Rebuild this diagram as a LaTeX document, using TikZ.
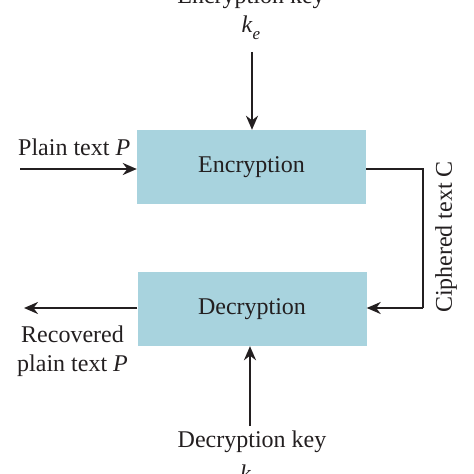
\documentclass[tikz,border=0pt]{standalone}
\usepackage{fontspec}
\setmainfont{Liberation Serif}
\usetikzlibrary{arrows.meta}
\definecolor{boxblue}{RGB}{168,211,222}
\definecolor{ink}{RGB}{35,31,32}
\newcommand{\subs}[1]{\raisebox{-0.28em}{\fontsize{17bp}{20bp}\selectfont\textit{#1}}}
\begin{document}
\begin{tikzpicture}[x=1bp,y=-1bp,
  every node/.style={text=ink,font=\fontsize{24bp}{28bp}\selectfont},
  block/.style={fill=boxblue,draw=none,minimum width=229bp,minimum height=74bp,inner sep=0pt},
  conn/.style={draw=ink,line width=2.7bp,-{Stealth[length=14bp,width=12bp,inset=4.5bp]}},
  line/.style={draw=ink,line width=2.7bp}]
\useasboundingbox (0,0) rectangle (474,474);
\clip (0,0) rectangle (474,474);
\node[block] (enc) at (251.5,167) {Encryption};
\node[block] (dec) at (252,309) {Decryption};
\node[anchor=base] (enckey) at (251,4) {Encryption key};
\node[anchor=base,inner sep=0pt] (ke) at (251,33) {\textit{k}\subs{e}};
\coordinate (ketop) at (252,52);
\draw[conn] (ketop) -- (enc.north -| ketop);
\node[anchor=base west,inner sep=0pt] (plain) at (18,156) {Plain text \textit{P}};
\coordinate (pin) at (20,169);
\draw[conn] (pin) -- (pin -| enc.west);
\coordinate (ca) at (423,169);
\coordinate (cb) at (423,308);
\draw[line] (ca -| enc.east) -- (ca) -- (cb);
\draw[conn] (cb) -- (cb -| dec.east);
\node[rotate=90,inner sep=0pt] (ciph) at (446,237) {Ciphered text C};
\coordinate (pout) at (24,308);
\draw[conn] (pout -| dec.west) -- (pout);
\node[anchor=base,inner sep=0pt] (rec1) at (72.5,342) {Recovered};
\node[anchor=base,inner sep=0pt] (rec2) at (72.5,371) {plain text \textit{P}};
\coordinate (kdbot) at (250,426);
\draw[conn] (kdbot) -- (dec.south -| kdbot);
\node[anchor=base,inner sep=0pt] (deckey) at (252,447) {Decryption key};
\node[anchor=base,inner sep=0pt] (kd) at (250,481) {\textit{k}\subs{d}};
\end{tikzpicture}
\end{document}
